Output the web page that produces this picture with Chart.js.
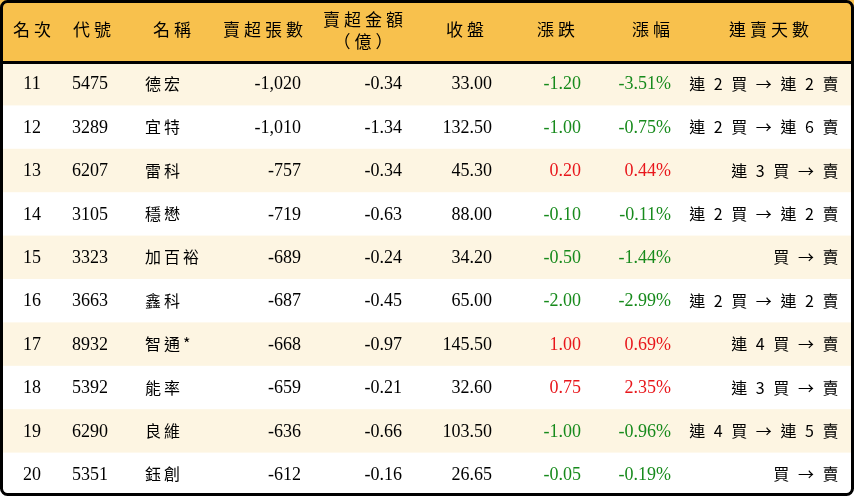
<!DOCTYPE html><html><head><meta charset="utf-8">
<script src="https://cdn.jsdelivr.net/npm/chart.js@4"></script>
<style>html,body{margin:0;padding:0;background:#fff}#w{width:854px;height:496px}</style></head><body><div id="w"><canvas id="c"></canvas></div>
<script>
const headers=["名次","代號","名稱","賣超張數","賣超金額\n（億）","收盤","漲跌","漲幅","連賣天數"];
const ranks=["11","12","13","14","15","16","17","18","19","20"];
const codes=["5475","3289","6207","3105","3323","3663","8932","5392","6290","5351"];
const names=["德宏","宜特","雷科","穩懋","加百裕","鑫科","智通*","能率","良維","鈺創"];
const sellQty=[-1020,-1010,-757,-719,-689,-687,-668,-659,-636,-612];
const sellAmt=[-0.34,-1.34,-0.34,-0.63,-0.24,-0.45,-0.97,-0.21,-0.66,-0.16];
const closes=[33.00,132.50,45.30,88.00,34.20,65.00,145.50,32.60,103.50,26.65];
const changes=[-1.20,-1.00,0.20,-0.10,-0.50,-2.00,1.00,0.75,-1.00,-0.05];
const pcts=[-3.51,-0.75,0.44,-0.11,-1.44,-2.99,0.69,2.35,-0.96,-0.19];
const streaks=["連 2 買 → 連 2 賣","連 2 買 → 連 6 賣","連 3 買 → 賣","連 2 買 → 連 2 賣","買 → 賣","連 2 買 → 連 2 賣","連 4 買 → 賣","連 3 買 → 賣","連 4 買 → 連 5 賣","買 → 賣"];
const CJK='"Noto Sans CJK TC"', SER='"Liberation Serif"';
const cols=[{x:32,a:'center'},{x:72,a:'left'},{x:145,a:'left'},{x:301,a:'right'},{x:402,a:'right'},{x:492,a:'right'},{x:581,a:'right'},{x:671,a:'right'},{x:841,a:'right'}];
const hx=[34,94,174,265,365,467,558,653,771];
const HEAD=62, RH=43.4;
const tablePlugin={id:'tbl',afterDraw(ch){
 const c=ch.ctx,X=ch.scales.x,Y=ch.scales.y;const px=v=>X.getPixelForValue(v),py=v=>Y.getPixelForValue(v);
 c.save();
 c.fillStyle='#f8c14d';c.fillRect(px(0),py(0),px(854)-px(0),py(HEAD)-py(0));
 for(let i=0;i<ranks.length;i++){if(i%2==0){c.fillStyle='#fdf5e2';c.fillRect(px(0),py(HEAD+i*RH),px(854)-px(0),RH);}}
 c.fillStyle='#000';c.fillRect(px(0),py(HEAD-1),854,3);
 c.textBaseline='middle';
 headers.forEach((h,j)=>{c.textAlign='center';c.font='17px '+CJK;c.letterSpacing='4px';const ls=h.split('\n');
  if(ls.length==1)c.fillText(h,px(hx[j]),py(30));else{c.fillText(ls[0],px(hx[j]),py(20));c.fillText(ls[1],px(hx[j]),py(42));}});
 const clr=v=>v>0?'#e8161b':(v<0?'#178a1c':'#000');
 for(let i=0;i<ranks.length;i++){const y=py(HEAD+i*RH+RH/2+1);
  const cells=[[ranks[i],SER,'#000'],[codes[i],SER,'#000'],[names[i],CJK,'#000'],[sellQty[i].toLocaleString('en-US'),SER,'#000'],[sellAmt[i].toFixed(2),SER,'#000'],[closes[i].toFixed(2),SER,'#000'],[changes[i].toFixed(2),SER,clr(changes[i])],[pcts[i].toFixed(2)+'%',SER,clr(pcts[i])],[streaks[i],CJK,'#000']];
  cells.forEach((cl,j)=>{c.textAlign=cols[j].a;c.fillStyle=cl[2];const cj=cl[1]==CJK;c.font=(cj?'16px ':'18px ')+cl[1];c.letterSpacing=cj?(j==8?'2.5px':'3px'):'0px';c.fillText(cl[0],px(cols[j].x),cj?y-1:y);});}
 c.letterSpacing='0px';
 c.strokeStyle='#000';c.lineWidth=3;c.beginPath();c.roundRect(px(0)+1.5,py(0)+1.5,852-1,494-1,6);c.stroke();
 c.restore();}};
new Chart(document.getElementById('c'),{type:'scatter',data:{datasets:[{data:[]}]},
 options:{responsive:true,maintainAspectRatio:false,animation:false,layout:{padding:0},
  plugins:{legend:{display:false},tooltip:{enabled:false}},
  scales:{x:{type:'linear',min:0,max:854,display:false},y:{type:'linear',min:0,max:496,reverse:true,display:false}}},
 plugins:[tablePlugin]});
</script></body></html>
